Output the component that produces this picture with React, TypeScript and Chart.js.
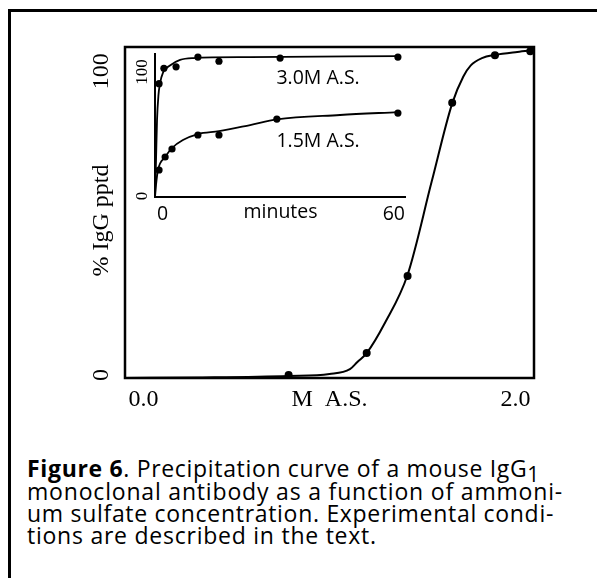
import React, { useEffect, useLayoutEffect, useRef } from "react";
import { Chart, registerables } from "chart.js";
Chart.register(...registerables);

// ---- Main chart data (ammonium sulfate molarity vs % IgG precipitated)
const concM = [0.78, 1.2, 1.42, 1.66, 1.89, 2.08];
const pptdPct = [0.9, 7.6, 31.1, 84.0, 98.5, 99.7];
const fitConc = [-0.1, 0.3, 0.78, 1.0, 1.11, 1.15, 1.2, 1.3, 1.42, 1.55, 1.66, 1.72, 1.76, 1.82, 1.89, 2.01, 2.1];
const fitPct = [0, 0.15, 0.6, 1.2, 2.7, 4.9, 7.6, 17.0, 31.5, 60.0, 83.8, 92.0, 95.4, 97.6, 98.6, 99.5, 100];
const mainXTicks = [0, 1, 2];
const mainXLabels = ["0.0", "M  A.S.", "2.0"];
const mainYTicks = [0, 100];
const mainYLabels = ["0", "100"];
const mainYTitle = "% IgG pptd";

// ---- Inset data (time course, minutes)
const t30 = [1, 2.2, 5.2, 10.6, 15.8, 30.9, 60];
const p30 = [81, 92, 93, 100, 97, 99.3, 100];
const t15 = [1, 2.5, 4.2, 10.6, 15.8, 30.1, 60];
const p15 = [19.3, 28.6, 34.3, 44.3, 44.3, 55.7, 60];
const fit30T = [0, 0.25, 0.5, 0.86, 1.23, 2, 3.7, 6.2, 9.4, 23.5, 60];
const fit30P = [0, 26, 55, 73, 81, 89, 94, 98, 99.3, 100, 100.7];
const fit15T = [0, 0.25, 0.74, 2.5, 4.2, 6.9, 10.6, 15.8, 23.5, 30.1, 45.7, 60];
const fit15P = [0, 8.6, 19.3, 28.6, 35, 40.7, 45, 47, 51.4, 55.4, 58.6, 60.7];
const insetXLabels = ["0", "minutes", "60"];
const insetYTicks = [0, 100];
const insetYLabels = ["0", "100"];
const noteLabels = ["3.0M A.S.", "1.5M A.S."];
const noteT = [30, 30];
const noteP = [85, 39.5];

// ---- Caption
const captionBold = "Figure 6";
const captionLine1 = ". Precipitation curve of a mouse IgG";
const captionSub = "1";
const captionRest = [
  "monoclonal antibody as a function of ammoni-",
  "um sulfate concentration. Experimental condi-",
  "tions are described in the text.",
];

const SERIF = '"Liberation Serif", serif';
const SANS = '"Open Sans", "Noto Sans", sans-serif';

const pts = (xs: number[], ys: number[]) => xs.map((x, i) => ({ x, y: ys[i] }));

export default function App() {
  const mainRef = useRef<HTMLCanvasElement>(null);
  const insetRef = useRef<HTMLCanvasElement>(null);
  const lineRefs = useRef<(HTMLDivElement | null)[]>([]);

  useLayoutEffect(() => {
    // fit caption line widths to the reference column (right ends of lines)
    const ends = [540, 563, 554];
    const fit = () => {
      const els = lineRefs.current;
      const spacings: number[] = [];
      els.forEach((el, i) => {
        if (!el) return;
        el.style.letterSpacing = "0px";
        if (i < ends.length) {
          const w = el.getBoundingClientRect().width;
          const n = (el.textContent || "").length;
          const ls = (ends[i] - 27 - w) / n;
          spacings.push(ls);
          el.style.letterSpacing = `${ls}px`;
        }
      });
      const last = els[els.length - 1];
      if (last && spacings.length) {
        const avg = (spacings[1] + spacings[2]) / 2;
        last.style.letterSpacing = `${avg}px`;
      }
    };
    fit();
    if ((document as any).fonts && (document as any).fonts.ready) {
      (document as any).fonts.ready.then(fit);
    }
  }, []);

  useEffect(() => {
    const mainPlugin = {
      id: "mainDeco",
      afterDraw(chart: any) {
        const { ctx, chartArea: a, scales } = chart;
        const xs = scales.x, ys = scales.y;
        ctx.save();
        ctx.strokeStyle = "#000";
        ctx.lineWidth = 2.5;
        ctx.strokeRect(a.left, a.top, a.right - a.left, a.bottom - a.top);
        ctx.fillStyle = "#000";
        ctx.font = `24px ${SERIF}`;
        ctx.textAlign = "center";
        ctx.textBaseline = "middle";
        mainXTicks.forEach((v, i) => {
          ctx.fillText(mainXLabels[i], xs.getPixelForValue(v), a.bottom + 22);
        });
        const lx = a.left - 23;
        mainYTicks.forEach((v, i) => {
          ctx.save();
          const isTop = v === 100;
          ctx.translate(lx, ys.getPixelForValue(v) + (isTop ? 3 : -3));
          ctx.rotate(-Math.PI / 2);
          ctx.textAlign = isTop ? "right" : "center";
          ctx.fillText(mainYLabels[i], 0, 0);
          ctx.restore();
        });
        ctx.save();
        ctx.translate(lx, (a.top + a.bottom) / 2 + 8);
        ctx.rotate(-Math.PI / 2);
        ctx.textAlign = "center";
        ctx.fillText(mainYTitle, 0, 0);
        ctx.restore();
        ctx.restore();
      },
    };

    const insetPlugin = {
      id: "insetDeco",
      afterDraw(chart: any) {
        const { ctx, chartArea: a, scales } = chart;
        const xs = scales.x, ys = scales.y;
        ctx.save();
        ctx.strokeStyle = "#000";
        ctx.lineWidth = 2;
        ctx.beginPath();
        ctx.moveTo(a.left, a.top);
        ctx.lineTo(a.left, a.bottom);
        ctx.lineTo(a.right, a.bottom);
        ctx.stroke();
        ctx.fillStyle = "#000";
        ctx.font = `17px ${SERIF}`;
        ctx.textBaseline = "middle";
        insetYTicks.forEach((v, i) => {
          ctx.save();
          const isTop = v === 100;
          ctx.translate(a.left - 12, ys.getPixelForValue(v) + (isTop ? 15 : -1));
          ctx.rotate(-Math.PI / 2);
          ctx.textAlign = "center";
          ctx.fillText(insetYLabels[i], 0, 0);
          ctx.restore();
        });
        ctx.font = `19.5px ${SANS}`;
        const yl = a.bottom + 17;
        ctx.textAlign = "left";
        ctx.fillText(insetXLabels[0], a.left + 2, yl);
        ctx.textAlign = "center";
        ctx.fillText(insetXLabels[1], (a.left + a.right) / 2, yl - 2);
        ctx.textAlign = "right";
        ctx.fillText(insetXLabels[2], a.right - 1, yl);
        ctx.textAlign = "left";
        noteLabels.forEach((s, i) => {
          ctx.fillText(s, xs.getPixelForValue(noteT[i]), ys.getPixelForValue(noteP[i]));
        });
        ctx.restore();
      },
    };

    const main = new Chart(mainRef.current!, {
      type: "scatter",
      data: {
        datasets: [
          {
            data: pts(fitConc, fitPct),
            showLine: true,
            borderColor: "#000",
            borderWidth: 2,
            pointRadius: 0,
            cubicInterpolationMode: "monotone",
            fill: false,
          },
          {
            data: pts(concM, pptdPct),
            showLine: false,
            pointRadius: 4,
            pointBackgroundColor: "#000",
            pointBorderColor: "#000",
            pointBorderWidth: 0,
            clip: false,
          },
        ],
      } as any,
      options: {
        animation: false,
        responsive: false,
        devicePixelRatio: 1,
        events: [],
        layout: { padding: { left: 125, top: 47, right: 63, bottom: 42 } },
        plugins: { legend: { display: false }, tooltip: { enabled: false } },
        scales: {
          x: { type: "linear", min: -0.1, max: 2.1, display: false },
          y: { type: "linear", min: 0, max: 101, display: false },
        },
      } as any,
      plugins: [mainPlugin],
    });

    const inset = new Chart(insetRef.current!, {
      type: "scatter",
      data: {
        datasets: [
          {
            data: pts(fit30T, fit30P),
            showLine: true,
            borderColor: "#000",
            borderWidth: 1.8,
            pointRadius: 0,
            cubicInterpolationMode: "monotone",
          },
          {
            data: pts(fit15T, fit15P),
            showLine: true,
            borderColor: "#000",
            borderWidth: 1.8,
            pointRadius: 0,
            cubicInterpolationMode: "monotone",
          },
          {
            data: pts(t30, p30),
            showLine: false,
            pointRadius: 3.6,
            pointBackgroundColor: "#000",
            pointBorderWidth: 0,
            clip: false,
          },
          {
            data: pts(t15, p15),
            showLine: false,
            pointRadius: 3.6,
            pointBackgroundColor: "#000",
            pointBorderWidth: 0,
            clip: false,
          },
        ],
      } as any,
      options: {
        animation: false,
        responsive: false,
        devicePixelRatio: 1,
        events: [],
        layout: { padding: { left: 155, top: 53, right: 191, bottom: 223 } },
        plugins: { legend: { display: false }, tooltip: { enabled: false } },
        scales: {
          x: { type: "linear", min: 0, max: 62, display: false },
          y: { type: "linear", min: 0, max: 102.9, display: false },
        },
      } as any,
      plugins: [insetPlugin],
    });

    return () => {
      main.destroy();
      inset.destroy();
    };
  }, []);

  const cap: React.CSSProperties = {
    position: "absolute",
    left: 27,
    font: `23px ${SANS}`,
    lineHeight: "22px",
    whiteSpace: "nowrap",
    color: "#000",
    fontVariantLigatures: "none",
  };

  return (
    <div style={{ position: "absolute", left: 0, top: 0, width: 597, height: 578, background: "#fff", overflow: "hidden" }}>
      <div
        style={{
          position: "absolute",
          left: 8,
          top: 9,
          width: 589,
          height: 569,
          borderLeft: "3px solid #000",
          borderTop: "3px solid #000",
          boxSizing: "border-box",
        }}
      />
      <canvas ref={mainRef} width={597} height={420} style={{ position: "absolute", left: 0, top: 0, width: 597, height: 420 }} />
      <canvas ref={insetRef} width={597} height={420} style={{ position: "absolute", left: 0, top: 0, width: 597, height: 420 }} />
      <div ref={(el) => { lineRefs.current[0] = el; }} style={{ ...cap, top: 457 }}>
        <b>{captionBold}</b>{captionLine1}
        <span style={{ fontSize: 21, position: "relative", top: 5 }}>{captionSub}</span>
      </div>
      {captionRest.map((s, i) => (
        <div key={i} ref={(el) => { lineRefs.current[i + 1] = el; }} style={{ ...cap, top: 480 + i * 22 }}>
          {s}
        </div>
      ))}
    </div>
  );
}
